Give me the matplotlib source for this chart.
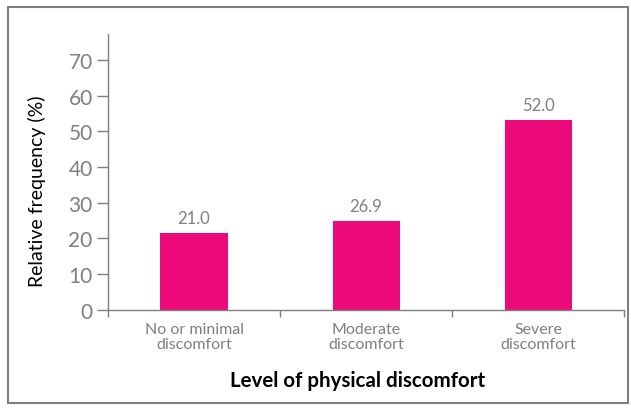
import matplotlib.pyplot as plt
from matplotlib.patches import Rectangle

# data
categories = ["No or minimal\ndiscomfort", "Moderate\ndiscomfort", "Severe\ndiscomfort"]
bar_heights = [21.5, 24.9, 53.2]      # drawn bar heights
value_labels = ["21.0", "26.9", "52.0"]  # printed labels
y_ticks = [0, 10, 20, 30, 40, 50, 60, 70]

plt.rcParams['font.family'] = ['Lato', 'DejaVu Sans']

grey = '#7f7f7f'
pink = '#EC0A7A'

fig = plt.figure(figsize=(6.31, 4.10), dpi=100)
ax = fig.add_axes([0.1712, 0.2422, 0.989 - 0.1712, 0.9146 - 0.2422])

x = list(range(len(categories)))
bars = ax.bar(x, bar_heights, width=0.39, color=pink, zorder=2)

for b, lab in zip(bars, value_labels):
    ax.text(b.get_x() + b.get_width() / 2, b.get_height() + 2.0, lab,
            ha='center', va='bottom', fontsize=12, color=grey)

ax.set_xlim(-0.5, 2.5)
ax.set_ylim(0, 77.3)

# y axis
ax.set_yticks(y_ticks)
ax.tick_params(axis='y', direction='out', length=8, width=1, color=grey,
               labelcolor=grey, labelsize=15, pad=3)

# x axis: ticks at category boundaries, labels at centres
ax.set_xticks([-0.5, 0.5, 1.5, 2.5])
ax.set_xticklabels([])
ax.set_xticks(x, minor=True)
ax.set_xticklabels(categories, minor=True, fontsize=11.5, color=grey,
                   linespacing=1.05)
ax.tick_params(axis='x', which='major', direction='out', length=5, width=1, color=grey)
ax.tick_params(axis='x', which='minor', length=0, pad=9)

for s in ['top', 'right']:
    ax.spines[s].set_visible(False)
for s in ['left', 'bottom']:
    ax.spines[s].set_color(grey)
    ax.spines[s].set_linewidth(1)

ax.set_ylabel("Relative frequency (%)", fontsize=14, color='black')
ax.yaxis.set_label_coords(-0.12, 0.434)
ax.set_xlabel("Level of physical discomfort", fontsize=14.8, fontweight='bold',
              color='black')
ax.xaxis.set_label_coords(0.483, -0.22)

# outer frame
fig.patches.append(Rectangle((8 / 631, 6 / 410), 620 / 631, 396 / 410,
                             transform=fig.transFigure, fill=False,
                             edgecolor=grey, linewidth=1.5))

fig.savefig("out.png", dpi=100)
